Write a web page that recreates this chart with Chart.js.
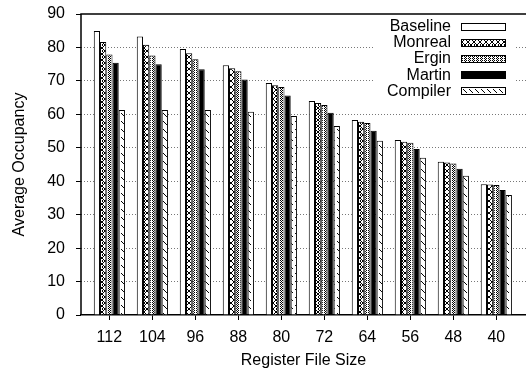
<!DOCTYPE html>
<html>
<head>
<meta charset="utf-8">
<script src="https://cdn.jsdelivr.net/npm/chart.js@4.4.1/dist/chart.umd.min.js"></script>
<style>html, body { margin: 0; padding: 0; background: #fff; }</style>
</head>
<body>
<canvas id="occChart" width="526" height="370"></canvas>
<script>
// register file sizes along x
var sizes = ['112', '104', '96', '88', '80', '72', '64', '56', '48', '40'];
var seriesNames = ['Baseline', 'Monreal', 'Ergin', 'Martin', 'Compiler'];

// average occupancy per scheme
var baseline = [84.9, 83.3, 79.5, 74.7, 69.4, 64.0, 58.3, 52.3, 45.8, 39.1];
var monreal  = [81.6, 80.8, 78.3, 73.8, 68.7, 63.4, 57.8, 51.8, 45.6, 39.0];
var ergin    = [77.9, 77.6, 76.5, 72.9, 68.2, 62.8, 57.4, 51.5, 45.3, 38.9];
var martin   = [75.4, 75.0, 73.5, 70.4, 65.6, 60.5, 55.1, 49.6, 43.7, 37.4];
var compiler = [61.3, 61.3, 61.3, 60.8, 59.5, 56.5, 52.1, 47.0, 41.6, 35.9];

var yTicks = [0, 10, 20, 30, 40, 50, 60, 70, 80, 90];

var FONT = "'Liberation Sans', Arial, Helvetica, sans-serif";

function makePattern(w, h, draw) {
    var c = document.createElement('canvas');
    c.width = w;
    c.height = h;
    var g = c.getContext('2d');
    g.fillStyle = '#fff';
    g.fillRect(0, 0, w, h);
    g.fillStyle = '#000';
    draw(g);
    return g.createPattern(c, 'repeat');
}

function px(g, pts) {
    pts.forEach(function(p) { g.fillRect(p[0], p[1], 1, 1); });
}

var fills = [
    '#ffffff',
    // crosses with dots
    makePattern(6, 6, function(g) {
        px(g, [[0,0],[1,1],[2,2],[3,3],[4,4],[5,5],[5,0],[4,1],[3,2],[2,3],[1,4],[0,5],[0,2],[0,3]]);
    }),
    // fine dotted grid
    makePattern(4, 4, function(g) {
        px(g, [[0,0],[2,0],[0,2],[2,2],[1,1],[1,3]]);
    }),
    '#000000',
    // sparse backslash dashes
    makePattern(6, 8, function(g) {
        px(g, [[1,1],[2,2],[3,3],[4,4]]);
    })
];

var seriesData = [baseline, monreal, ergin, martin, compiler];

var datasets = seriesData.map(function(vals, s) {
    return {
        label: seriesNames[s],
        data: vals.map(function(v, i) { return { x: i, y: v }; }),
        backgroundColor: fills[s],
        borderColor: '#000',
        borderWidth: 1,
        borderSkipped: 'bottom',
        barPercentage: 1,
        categoryPercentage: 0.725
    };
});

// legend: text on the left, swatch on the right, white box behind,
// then the top and left frame lines over everything
var boxLegend = {
    id: 'boxLegend',
    afterDraw: function(chart) {
        var ctx = chart.ctx;
        var a = chart.chartArea;
        ctx.save();
        ctx.fillStyle = '#fff';
        ctx.fillRect(373, 16, 141, 85);
        ctx.font = '16px ' + FONT;
        ctx.textAlign = 'right';
        ctx.textBaseline = 'middle';
        chart.data.datasets.forEach(function(ds, i) {
            var cy = 26.5 + i * 16.2;
            ctx.fillStyle = '#000';
            ctx.fillText(ds.label, 451, cy);
            ctx.fillStyle = ds.backgroundColor;
            ctx.fillRect(461, Math.round(cy) - 4, 45, 8);
            ctx.strokeStyle = '#000';
            ctx.lineWidth = 1;
            ctx.strokeRect(461.5, Math.round(cy) - 3.5, 44, 7);
        });
        ctx.strokeStyle = '#000';
        ctx.lineWidth = 1.5;
        ctx.beginPath();
        ctx.moveTo(a.right, Math.round(a.top));
        ctx.lineTo(Math.round(a.left), Math.round(a.top));
        ctx.lineTo(Math.round(a.left), a.bottom);
        ctx.stroke();
        ctx.restore();
    }
};

Chart.defaults.font.family = FONT;
Chart.defaults.font.size = 16;
Chart.defaults.color = '#000';

new Chart(document.getElementById('occChart').getContext('2d'), {
    type: 'bar',
    data: { datasets: datasets },
    options: {
        responsive: false,
        animation: false,
        devicePixelRatio: 1,
        layout: { padding: { top: 14, right: 0, left: 0, bottom: 0 } },
        plugins: {
            legend: { display: false },
            tooltip: { enabled: false }
        },
        scales: {
            x: {
                type: 'linear',
                offset: false,
                min: -0.66,
                max: 9.69,
                afterBuildTicks: function(scale) {
                    scale.ticks = sizes.map(function(_, i) { return { value: i }; });
                },
                afterFit: function(scale) {
                    scale.height = 55;
                    scale.paddingLeft = 0;
                    scale.paddingRight = 0;
                },
                ticks: {
                    autoSkip: false,
                    maxRotation: 0,
                    padding: 8,
                    callback: function(v) { return sizes[v]; }
                },
                grid: {
                    offset: false,
                    drawOnChartArea: false,
                    drawTicks: true,
                    tickLength: 5,
                    tickColor: '#000'
                },
                border: { display: true, color: '#000', width: 1.5 },
                title: {
                    display: true,
                    text: 'Register File Size',
                    padding: { top: 0, bottom: 0 }
                }
            },
            y: {
                min: yTicks[0],
                max: yTicks[yTicks.length - 1],
                afterBuildTicks: function(scale) {
                    scale.ticks = yTicks.map(function(v) { return { value: v }; });
                },
                afterFit: function(scale) {
                    scale.width = 81;
                    scale.paddingTop = 0;
                    scale.paddingBottom = 0;
                },
                ticks: { padding: 11 },
                grid: {
                    color: function(c) {
                        var v = c.tick ? c.tick.value : 0;
                        return (v === 0 || v === 90) ? 'rgba(0,0,0,0)' : '#777';
                    },
                    lineWidth: 1,
                    tickLength: 5,
                    tickColor: '#000'
                },
                border: { display: false, dash: [1, 2] },
                title: {
                    display: true,
                    text: 'Average Occupancy',
                    padding: { top: 10, bottom: 0 }
                }
            }
        }
    },
    plugins: [boxLegend]
});
</script>
</body>
</html>
